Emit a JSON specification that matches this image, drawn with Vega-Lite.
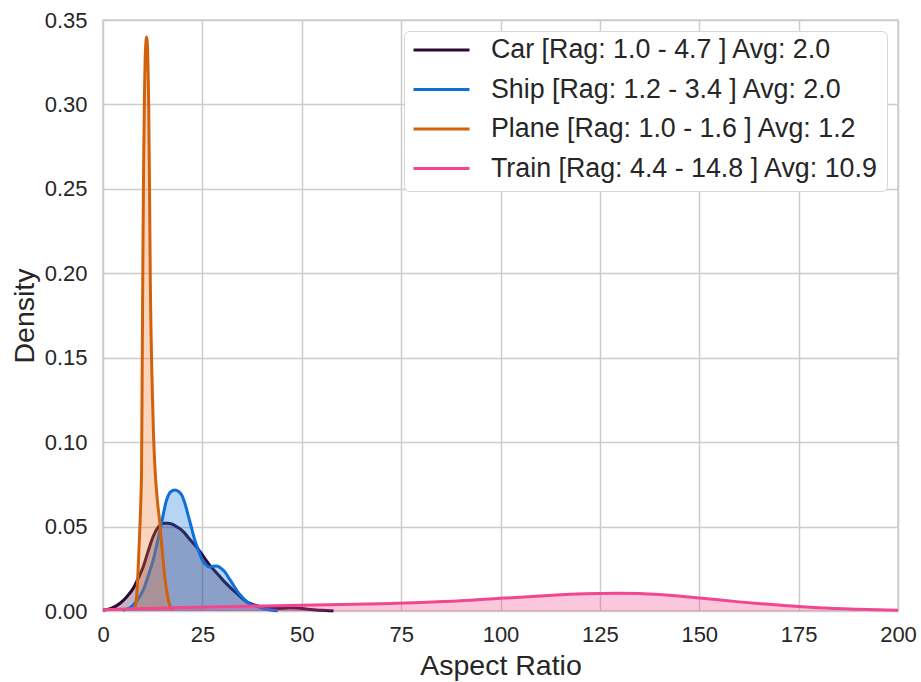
{
  "$schema": "https://vega.github.io/schema/vega-lite/v6.json",
  "width": 795,
  "height": 591,
  "autosize": {"type": "none"},
  "padding": {"left": 103, "top": 20, "right": 23, "bottom": 71},
  "background": "white",
  "config": {
    "font": "Liberation Sans",
    "view": {"stroke": "#cccccc", "strokeWidth": 1.5},
    "axis": {
      "labelFont": "Liberation Sans",
      "labelFontSize": 22,
      "labelColor": "#262626",
      "titleFont": "Liberation Sans",
      "titleFontSize": 28.5,
      "titleFontWeight": "normal",
      "titleColor": "#262626",
      "grid": true,
      "gridColor": "#cccccc",
      "gridWidth": 1.5,
      "domain": false,
      "ticks": false
    },
    "legend": {
      "labelFont": "Liberation Sans",
      "labelFontSize": 26.8,
      "labelColor": "#262626",
      "labelLimit": 600
    }
  },
  "data": {
    "values": [
      {"vehicle": "Car", "x": 0, "density": 0.0004},
      {"vehicle": "Car", "x": 2, "density": 0.0015},
      {"vehicle": "Car", "x": 4.3, "density": 0.0046},
      {"vehicle": "Car", "x": 6, "density": 0.0085},
      {"vehicle": "Car", "x": 7.6, "density": 0.0134},
      {"vehicle": "Car", "x": 9, "density": 0.02},
      {"vehicle": "Car", "x": 10.1, "density": 0.026},
      {"vehicle": "Car", "x": 11.3, "density": 0.035},
      {"vehicle": "Car", "x": 12.6, "density": 0.044},
      {"vehicle": "Car", "x": 14, "density": 0.05},
      {"vehicle": "Car", "x": 15.2, "density": 0.052},
      {"vehicle": "Car", "x": 16.3, "density": 0.052},
      {"vehicle": "Car", "x": 17.3, "density": 0.0515},
      {"vehicle": "Car", "x": 18.8, "density": 0.0495},
      {"vehicle": "Car", "x": 20.2, "density": 0.047},
      {"vehicle": "Car", "x": 21.8, "density": 0.0425},
      {"vehicle": "Car", "x": 23.5, "density": 0.038},
      {"vehicle": "Car", "x": 25.2, "density": 0.0325},
      {"vehicle": "Car", "x": 26.9, "density": 0.027},
      {"vehicle": "Car", "x": 28.6, "density": 0.0225},
      {"vehicle": "Car", "x": 30.3, "density": 0.018},
      {"vehicle": "Car", "x": 32, "density": 0.014},
      {"vehicle": "Car", "x": 33.6, "density": 0.0105},
      {"vehicle": "Car", "x": 35, "density": 0.0075},
      {"vehicle": "Car", "x": 36.1, "density": 0.0055},
      {"vehicle": "Car", "x": 37.8, "density": 0.0038},
      {"vehicle": "Car", "x": 39.5, "density": 0.0026},
      {"vehicle": "Car", "x": 41.5, "density": 0.0018},
      {"vehicle": "Car", "x": 43.5, "density": 0.0015},
      {"vehicle": "Car", "x": 45.5, "density": 0.0017},
      {"vehicle": "Car", "x": 47, "density": 0.0019},
      {"vehicle": "Car", "x": 49, "density": 0.0017},
      {"vehicle": "Car", "x": 51, "density": 0.0012},
      {"vehicle": "Car", "x": 53, "density": 0.0008},
      {"vehicle": "Car", "x": 55, "density": 0.0004},
      {"vehicle": "Car", "x": 57, "density": 0.0002},
      {"vehicle": "Car", "x": 58, "density": 0.0001},
      {"vehicle": "Ship", "x": 5, "density": 0.0005},
      {"vehicle": "Ship", "x": 6.8, "density": 0.002},
      {"vehicle": "Ship", "x": 8.5, "density": 0.006},
      {"vehicle": "Ship", "x": 10.1, "density": 0.0124},
      {"vehicle": "Ship", "x": 11.4, "density": 0.021},
      {"vehicle": "Ship", "x": 12.6, "density": 0.03},
      {"vehicle": "Ship", "x": 13.7, "density": 0.041},
      {"vehicle": "Ship", "x": 14.7, "density": 0.052},
      {"vehicle": "Ship", "x": 16, "density": 0.0657},
      {"vehicle": "Ship", "x": 17, "density": 0.0705},
      {"vehicle": "Ship", "x": 18.1, "density": 0.0717},
      {"vehicle": "Ship", "x": 19, "density": 0.0708},
      {"vehicle": "Ship", "x": 19.8, "density": 0.0687},
      {"vehicle": "Ship", "x": 20.7, "density": 0.063},
      {"vehicle": "Ship", "x": 21.5, "density": 0.056},
      {"vehicle": "Ship", "x": 22.3, "density": 0.049},
      {"vehicle": "Ship", "x": 23.1, "density": 0.042},
      {"vehicle": "Ship", "x": 24, "density": 0.036},
      {"vehicle": "Ship", "x": 24.8, "density": 0.031},
      {"vehicle": "Ship", "x": 25.8, "density": 0.0275},
      {"vehicle": "Ship", "x": 26.9, "density": 0.026},
      {"vehicle": "Ship", "x": 27.8, "density": 0.0265},
      {"vehicle": "Ship", "x": 28.6, "density": 0.0266},
      {"vehicle": "Ship", "x": 29.6, "density": 0.0255},
      {"vehicle": "Ship", "x": 30.7, "density": 0.023},
      {"vehicle": "Ship", "x": 31.8, "density": 0.019},
      {"vehicle": "Ship", "x": 32.8, "density": 0.0154},
      {"vehicle": "Ship", "x": 34, "density": 0.011},
      {"vehicle": "Ship", "x": 35.3, "density": 0.0075},
      {"vehicle": "Ship", "x": 36.5, "density": 0.0048},
      {"vehicle": "Ship", "x": 37.8, "density": 0.0033},
      {"vehicle": "Ship", "x": 39.5, "density": 0.002},
      {"vehicle": "Ship", "x": 41, "density": 0.001},
      {"vehicle": "Ship", "x": 42.5, "density": 0.0004},
      {"vehicle": "Ship", "x": 44, "density": 0.0001},
      {"vehicle": "Plane", "x": 8, "density": 0.0015},
      {"vehicle": "Plane", "x": 8.5, "density": 0.01},
      {"vehicle": "Plane", "x": 8.9, "density": 0.028},
      {"vehicle": "Plane", "x": 9.2, "density": 0.045},
      {"vehicle": "Plane", "x": 9.5, "density": 0.064},
      {"vehicle": "Plane", "x": 9.7, "density": 0.0835},
      {"vehicle": "Plane", "x": 9.85, "density": 0.14},
      {"vehicle": "Plane", "x": 10, "density": 0.196},
      {"vehicle": "Plane", "x": 10.2, "density": 0.26},
      {"vehicle": "Plane", "x": 10.4, "density": 0.3},
      {"vehicle": "Plane", "x": 10.7, "density": 0.333},
      {"vehicle": "Plane", "x": 11, "density": 0.34},
      {"vehicle": "Plane", "x": 11.3, "density": 0.325},
      {"vehicle": "Plane", "x": 11.5, "density": 0.3},
      {"vehicle": "Plane", "x": 11.7, "density": 0.25},
      {"vehicle": "Plane", "x": 11.9, "density": 0.196},
      {"vehicle": "Plane", "x": 12.3, "density": 0.14},
      {"vehicle": "Plane", "x": 12.7, "density": 0.105},
      {"vehicle": "Plane", "x": 13.1, "density": 0.0835},
      {"vehicle": "Plane", "x": 13.7, "density": 0.065},
      {"vehicle": "Plane", "x": 14.3, "density": 0.052},
      {"vehicle": "Plane", "x": 14.8, "density": 0.038},
      {"vehicle": "Plane", "x": 15.2, "density": 0.028},
      {"vehicle": "Plane", "x": 15.6, "density": 0.019},
      {"vehicle": "Plane", "x": 16, "density": 0.0124},
      {"vehicle": "Plane", "x": 16.5, "density": 0.006},
      {"vehicle": "Plane", "x": 16.9, "density": 0.0026},
      {"vehicle": "Plane", "x": 17.3, "density": 0.0005},
      {"vehicle": "Train", "x": 0, "density": 0.0008},
      {"vehicle": "Train", "x": 10, "density": 0.0015},
      {"vehicle": "Train", "x": 20, "density": 0.002},
      {"vehicle": "Train", "x": 30, "density": 0.0025},
      {"vehicle": "Train", "x": 40, "density": 0.003},
      {"vehicle": "Train", "x": 50, "density": 0.0034},
      {"vehicle": "Train", "x": 60, "density": 0.0038},
      {"vehicle": "Train", "x": 70, "density": 0.0043},
      {"vehicle": "Train", "x": 80, "density": 0.005},
      {"vehicle": "Train", "x": 90, "density": 0.006},
      {"vehicle": "Train", "x": 100, "density": 0.0075},
      {"vehicle": "Train", "x": 110, "density": 0.0089},
      {"vehicle": "Train", "x": 117.5, "density": 0.0099},
      {"vehicle": "Train", "x": 125, "density": 0.0104},
      {"vehicle": "Train", "x": 130, "density": 0.0105},
      {"vehicle": "Train", "x": 135, "density": 0.0103},
      {"vehicle": "Train", "x": 140, "density": 0.0097},
      {"vehicle": "Train", "x": 150, "density": 0.0077},
      {"vehicle": "Train", "x": 160, "density": 0.0054},
      {"vehicle": "Train", "x": 170, "density": 0.0035},
      {"vehicle": "Train", "x": 175, "density": 0.0026},
      {"vehicle": "Train", "x": 180, "density": 0.0019},
      {"vehicle": "Train", "x": 190, "density": 0.001},
      {"vehicle": "Train", "x": 200, "density": 0.0004}
    ]
  },
  "encoding": {
    "x": {
      "field": "x",
      "type": "quantitative",
      "scale": {"domain": [0, 200], "nice": false},
      "axis": {"title": "Aspect Ratio", "values": [0, 25, 50, 75, 100, 125, 150, 175, 200], "labelFlush": false, "labelPadding": 13, "titlePadding": 6}
    },
    "y": {
      "field": "density",
      "type": "quantitative",
      "stack": null,
      "scale": {"domain": [0, 0.35], "nice": false},
      "axis": {"title": "Density", "format": ".2f", "values": [0, 0.05, 0.1, 0.15, 0.2, 0.25, 0.3, 0.35], "labelPadding": 16, "titlePadding": 5}
    }
  },
  "layer": [
    {"transform": [{"filter": "datum.vehicle === 'Car'"}], "mark": {"type": "area", "interpolate": "monotone", "fill": "#2e0b35", "fillOpacity": 0.3, "opacity": 1}},
    {"transform": [{"filter": "datum.vehicle === 'Car'"}], "mark": {"type": "line", "interpolate": "monotone", "strokeWidth": 3},
     "encoding": {"stroke": {"field": "vehicle", "type": "nominal"}}},
    {"transform": [{"filter": "datum.vehicle === 'Ship'"}], "mark": {"type": "area", "interpolate": "monotone", "fill": "#0c6fdc", "fillOpacity": 0.3, "opacity": 1}},
    {"transform": [{"filter": "datum.vehicle === 'Ship'"}], "mark": {"type": "line", "interpolate": "monotone", "strokeWidth": 3},
     "encoding": {"stroke": {"field": "vehicle", "type": "nominal"}}},
    {"transform": [{"filter": "datum.vehicle === 'Plane'"}], "mark": {"type": "area", "interpolate": "monotone", "fill": "#ee7424", "fillOpacity": 0.3, "opacity": 1}},
    {"transform": [{"filter": "datum.vehicle === 'Plane'"}], "mark": {"type": "line", "interpolate": "monotone", "strokeWidth": 3},
     "encoding": {"stroke": {"field": "vehicle", "type": "nominal"}}},
    {"transform": [{"filter": "datum.vehicle === 'Train'"}], "mark": {"type": "area", "interpolate": "monotone", "fill": "#f2478f", "fillOpacity": 0.3, "opacity": 1}},
    {"transform": [{"filter": "datum.vehicle === 'Train'"}], "mark": {"type": "line", "interpolate": "monotone", "strokeWidth": 3},
     "encoding": {
       "stroke": {
         "field": "vehicle",
         "type": "nominal",
         "scale": {"domain": ["Car", "Ship", "Plane", "Train"], "range": ["#2e0b35", "#0c6fdc", "#d2610c", "#f2478f"]},
         "legend": {
           "title": null,
           "orient": "top-right",
           "offset": 11,
           "symbolType": "stroke",
           "symbolSize": 3136,
           "symbolStrokeWidth": 3,
           "clipHeight": 22,
           "rowPadding": 12.5,
           "labelOffset": 20,
           "padding": 8,
           "strokeColor": "#d6d6d6",
           "fillColor": "#ffffff",
           "cornerRadius": 5,
           "labelExpr": "datum.label === 'Car' ? 'Car [Rag: 1.0 - 4.7 ] Avg: 2.0' : datum.label === 'Ship' ? 'Ship [Rag: 1.2 - 3.4 ] Avg: 2.0' : datum.label === 'Plane' ? 'Plane [Rag: 1.0 - 1.6 ] Avg: 1.2' : 'Train [Rag: 4.4 - 14.8 ] Avg: 10.9'"
         }
       }
     }}
  ]
}
